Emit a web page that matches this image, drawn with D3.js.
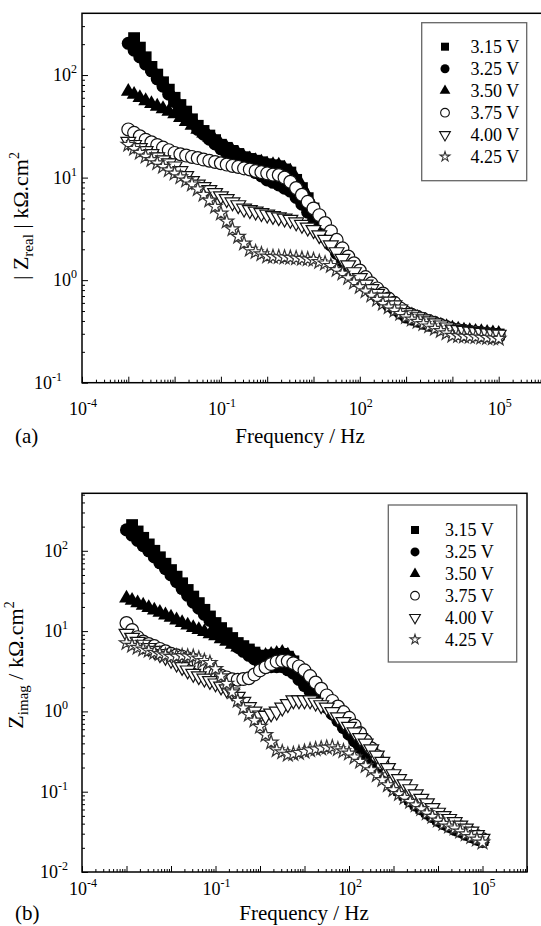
<!DOCTYPE html>
<html>
<head>
<meta charset="utf-8">
<script src="https://cdn.jsdelivr.net/npm/d3@7"></script>
<style>
    html, body { margin: 0; padding: 0; background: #fff; }
    svg { display: block; font-family: 'Liberation Serif', 'Times New Roman', serif; }
    .tick line { stroke: #000; stroke-width: 1; }
</style>
</head>
<body>
<svg id="chart" width="541" height="926"></svg>
<script>
// === DATA ===

// measurement frequencies, Hz
const FREQ = [
    1e-3, 1.334e-3, 1.778e-3, 2.371e-3, 3.162e-3, 4.217e-3, 5.623e-3, 7.499e-3,
    1e-2, 1.334e-2, 1.778e-2, 2.371e-2, 3.162e-2, 4.217e-2, 5.623e-2, 7.499e-2,
    0.1, 0.1334, 0.1778, 0.2371, 0.3162, 0.4217, 0.5623, 0.7499,
    1, 1.334, 1.778, 2.371, 3.162, 4.217, 5.623, 7.499,
    10, 13.34, 17.78, 23.71, 31.62, 42.17, 56.23, 74.99,
    100, 133.4, 177.8, 237.1, 316.2, 421.7, 562.3, 749.9,
    1000, 1334, 1778, 2371, 3162, 4217, 5623, 7499,
    1e4, 1.334e4, 1.778e4, 2.371e4, 3.162e4, 4.217e4, 5.623e4, 7.499e4,
    1e5
];

const SERIES_LABELS = ['3.15 V', '3.25 V', '3.50 V', '3.75 V', '4.00 V', '4.25 V'];

// (a) |Z_real|, kOhm.cm2
const ZREAL_315 = [
    null, 229, 185, 149, 120, 101, 85, 72,
    60, 51, 44, 37, 32, 28.5, 25.7, 23.2,
    20.9, 19.5, 18.2, 17, 15.8, 15.2, 14.6, 14.1,
    13.5, 13.2, 12.9, 12.0, 11.2, 9.5, 7.9, 6.3,
    5.0, 4.0, 3.2, 2.6, 2.1, 1.78, 1.48, 1.26,
    1.07, 0.95, 0.84, 0.74, 0.66, 0.60, 0.55, 0.51,
    0.47, 0.45, 0.42, 0.40, 0.38, 0.367, 0.355, 0.343,
    0.33, 0.325, 0.32, 0.314, 0.31, 0.305, 0.302, 0.299,
    0.295
];
const ZREAL_325 = [
    204, 175, 150, 128, 110, 92, 78, 65,
    55, 47, 40.3, 34.5, 29.5, 26.5, 23.7, 21.3,
    19.1, 17.4, 15.8, 14.5, 13.2, 12.2, 11.2, 10.4,
    9.5, 9.0, 8.5, 7.9, 7.4, 6.4, 5.5, 4.6,
    3.8, 3.2, 2.6, 2.2, 1.82, 1.53, 1.29, 1.11,
    0.95, 0.856, 0.77, 0.69, 0.62, 0.566, 0.52, 0.476,
    0.437, 0.417, 0.398, 0.38, 0.363, 0.351, 0.339, 0.327,
    0.316, 0.312, 0.307, 0.303, 0.299, 0.294, 0.29, 0.286,
    0.282
];
const ZREAL_350 = [
    69, 64.6, 60, 56, 52.5, 49.5, 46.8, 44.2,
    41.7, 38.3, 35.1, 32.2, 29.5, 27.1, 24.8, 22.8,
    20.9, 19.5, 18.2, 17, 15.8, 15.2, 14.6, 14.1,
    13.5, 13.3, 13.2, 12.3, 11.5, 9.8, 8.3, 6.6,
    5.2, 4.2, 3.3, 2.7, 2.24, 1.86, 1.55, 1.32,
    1.12, 0.99, 0.87, 0.77, 0.68, 0.62, 0.57, 0.525,
    0.484, 0.457, 0.431, 0.407, 0.389, 0.376, 0.363, 0.351,
    0.339, 0.331, 0.324, 0.32, 0.316, 0.313, 0.309, 0.305,
    0.302
];
const ZREAL_375 = [
    29.5, 27.3, 25.3, 23.4, 22.1, 20.8, 19.6, 18.5,
    17.4, 16.9, 16.4, 15.9, 15.5, 15.0, 14.6, 14.2,
    13.8, 13.4, 13.0, 12.7, 12.3, 12.0, 11.6, 11.3,
    11.0, 10.7, 10.6, 10.0, 9.1, 7.9, 6.8, 5.8,
    5.0, 4.3, 3.6, 3.0, 2.47, 2.04, 1.70, 1.46,
    1.24, 1.07, 0.93, 0.83, 0.74, 0.66, 0.60, 0.53,
    0.48, 0.457, 0.437, 0.417, 0.398, 0.38, 0.363, 0.347,
    0.331, 0.325, 0.32, 0.314, 0.309, 0.304, 0.299, 0.293,
    0.288
];
const ZREAL_400 = [
    22.4, 20.9, 19.5, 18.2, 17.0, 15.8, 14.8, 13.8,
    12.9, 11.6, 10.4, 9.3, 8.6, 8.1, 7.6, 7.1,
    6.6, 6.2, 5.75, 5.4, 5.0, 4.84, 4.68, 4.52,
    4.37, 4.24, 4.12, 4.0, 3.89, 3.67, 3.47, 3.27,
    3.09, 2.75, 2.48, 2.19, 1.88, 1.62, 1.40, 1.20,
    1.05, 0.91, 0.82, 0.74, 0.68, 0.62, 0.57, 0.52,
    0.48, 0.457, 0.437, 0.417, 0.398, 0.38, 0.363, 0.347,
    0.331, 0.327, 0.322, 0.317, 0.313, 0.308, 0.304, 0.299,
    0.295
];
const ZREAL_425 = [
    20.9, 19.1, 17.5, 16.1, 14.9, 13.8, 12.8, 11.8,
    11.0, 10.1, 9.4, 8.6, 7.7, 6.8, 6.0, 5.2,
    4.47, 3.74, 3.14, 2.66, 2.28, 1.98, 1.88, 1.79,
    1.70, 1.69, 1.68, 1.67, 1.66, 1.64, 1.62, 1.60,
    1.58, 1.51, 1.46, 1.38, 1.26, 1.16, 1.05, 0.95,
    0.86, 0.78, 0.71, 0.645, 0.59, 0.545, 0.506, 0.47,
    0.437, 0.414, 0.394, 0.374, 0.355, 0.337, 0.32, 0.304,
    0.288, 0.286, 0.283, 0.281, 0.279, 0.276, 0.274, 0.272,
    0.269
];

// (b) Z_imag, kOhm.cm2
const ZIMAG_315 = [
    null, 209, 174, 145, 120, 100, 83, 69,
    57.5, 47.6, 39.4, 32.5, 26.9, 22.3, 18.4, 15.2,
    12.6, 10.9, 9.4, 8.2, 7.1, 6.5, 5.9, 5.4,
    4.9, 4.95, 5.0, 5.1, 5.2, 4.8, 4.2, 3.3,
    2.6, 2.16, 1.78, 1.50, 1.26, 1.03, 0.84, 0.69,
    0.56, 0.46, 0.376, 0.307, 0.251, 0.209, 0.174, 0.145,
    0.120, 0.105, 0.092, 0.081, 0.071, 0.063, 0.057, 0.051,
    0.046, 0.042, 0.039, 0.036, 0.033, 0.031, 0.029, 0.027,
    0.025
];
const ZIMAG_325 = [
    182, 157, 135, 116, 100, 84, 71, 60,
    50, 41.2, 33.9, 27.9, 22.9, 19.3, 16.2, 13.6,
    11.5, 9.9, 8.5, 7.3, 6.3, 5.6, 5.0, 4.5,
    4.0, 3.8, 3.6, 3.6, 3.6, 3.3, 3.0, 2.5,
    2.1, 1.78, 1.51, 1.30, 1.12, 0.93, 0.77, 0.63,
    0.52, 0.43, 0.355, 0.29, 0.24, 0.20, 0.166, 0.138,
    0.115, 0.101, 0.088, 0.077, 0.068, 0.061, 0.054, 0.049,
    0.044, 0.040, 0.037, 0.034, 0.032, 0.0295, 0.0275, 0.0257,
    0.024
];
const ZIMAG_350 = [
    25.7, 24.0, 22.4, 20.9, 19.5, 18.2, 17.0, 15.8,
    14.8, 13.7, 12.7, 11.8, 11.0, 10.4, 9.8, 9.2,
    8.7, 8.0, 7.4, 6.8, 6.3, 5.9, 5.5, 5.1,
    4.8, 4.95, 5.1, 5.25, 5.4, 5.0, 4.4, 3.5,
    2.75, 2.26, 1.86, 1.57, 1.32, 1.08, 0.88, 0.72,
    0.59, 0.48, 0.394, 0.321, 0.263, 0.219, 0.182, 0.152,
    0.126, 0.110, 0.096, 0.085, 0.074, 0.066, 0.060, 0.053,
    0.048, 0.044, 0.041, 0.038, 0.035, 0.032, 0.030, 0.028,
    0.026
];
const ZIMAG_375 = [
    12.6, 10.3, 8.4, 7.4, 6.9, 6.5, 6.0, 5.6,
    5.2, 5.0, 4.8, 4.6, 4.4, 3.96, 3.59, 3.25,
    2.95, 2.80, 2.65, 2.51, 2.48, 2.53, 2.59, 2.88,
    3.24, 3.55, 3.89, 4.17, 4.27, 4.22, 3.98, 3.63,
    3.24, 2.75, 2.29, 1.91, 1.58, 1.35, 1.15, 0.98,
    0.83, 0.668, 0.537, 0.431, 0.347, 0.279, 0.224, 0.18,
    0.145, 0.127, 0.111, 0.098, 0.086, 0.076, 0.066, 0.058,
    0.051, 0.047, 0.043, 0.0396, 0.036, 0.033, 0.0305, 0.028,
    0.0257
];
const ZIMAG_400 = [
    9.3, 8.3, 7.4, 6.8, 6.2, 5.7, 5.2, 4.8,
    4.4, 3.96, 3.59, 3.25, 2.95, 2.75, 2.57, 2.40,
    2.24, 2.05, 1.89, 1.73, 1.53, 1.32, 1.135, 1.0,
    0.895, 0.885, 0.946, 1.0, 1.12, 1.24, 1.38, 1.38,
    1.38, 1.38, 1.29, 1.2, 1.12, 0.986, 0.85, 0.74,
    0.645, 0.55, 0.468, 0.40, 0.339, 0.283, 0.237, 0.198,
    0.166, 0.144, 0.124, 0.108, 0.093, 0.082, 0.072, 0.063,
    0.055, 0.050, 0.046, 0.042, 0.038, 0.035, 0.032, 0.029,
    0.026
];
const ZIMAG_425 = [
    7.1, 6.6, 6.2, 5.9, 5.7, 5.4, 5.2, 5.0,
    4.8, 4.84, 4.9, 4.86, 4.8, 4.57, 4.27, 4.03,
    3.39, 2.75, 2.21, 1.74, 1.36, 1.10, 0.91, 0.77,
    0.645, 0.51, 0.41, 0.33, 0.31, 0.29, 0.295, 0.305,
    0.316, 0.33, 0.339, 0.347, 0.355, 0.359, 0.339, 0.32,
    0.30, 0.268, 0.237, 0.21, 0.186, 0.161, 0.14, 0.121,
    0.105, 0.094, 0.084, 0.075, 0.068, 0.061, 0.054, 0.049,
    0.044, 0.040, 0.037, 0.035, 0.032, 0.0296, 0.0274, 0.0254,
    0.0234
];

// tick label exponents
const X_LABEL_EXP = [-4, -1, 2, 5];
const YA_LABEL_EXP = [-1, 0, 1, 2];
const YB_LABEL_EXP = [-2, -1, 0, 1, 2];

// === STYLE ===

const MARKERS = [
    { type: d3.symbolSquare,   size: 140, legendSize: 64, fill: '#000', stroke: 'none' },
    { type: d3.symbolCircle,   size: 135, legendSize: 64, fill: '#000', stroke: 'none' },
    { type: d3.symbolTriangle, size: 95,  legendSize: 50, fill: '#000', stroke: 'none' },
    { type: d3.symbolCircle,   size: 130, legendSize: 60, fill: '#fff', stroke: '#111' },
    { type: d3.symbolTriangle, size: 95,  legendSize: 50, fill: '#fff', stroke: '#111', flip: true },
    { type: d3.symbolStar,     size: 62,  legendSize: 30, fill: '#fff', stroke: '#333' }
];

const FONT = "'Liberation Serif', 'Times New Roman', serif";

const PANEL_A = {
    left: 82, right: 545, top: 13.3, bottom: 382.7,
    yDomain: [0.1, 400],
    series: [ZREAL_315, ZREAL_325, ZREAL_350, ZREAL_375, ZREAL_400, ZREAL_425],
    yLabelExp: YA_LABEL_EXP,
    yLabelX: 77, yLabelXSpecial: { '-1': 62 },
    xLabelY: 415,
    xTitleX: 300, xTitleY: 443,
    tag: '(a)', tagY: 443,
    yTitle: { cx: 28, cy: 216, main: '| Z', sub: 'real', rest: ' | kΩ.cm' },
    legend: { x: 421.7, y: 22.7, w: 105, h: 158, markX: 445, textX: 470.5, rowY: 46.7, rowH: 22 }
};

const PANEL_B = {
    left: 82, right: 527, top: 493.3, bottom: 872,
    yDomain: [0.01, 520],
    series: [ZIMAG_315, ZIMAG_325, ZIMAG_350, ZIMAG_375, ZIMAG_400, ZIMAG_425],
    yLabelExp: YB_LABEL_EXP,
    yLabelX: 68, yLabelXSpecial: {},
    xLabelY: 895,
    xTitleX: 304, xTitleY: 920,
    tag: '(b)', tagY: 920,
    yTitle: { cx: 23, cy: 665, main: 'Z', sub: 'imag', rest: ' / kΩ.cm' },
    legend: { x: 388.3, y: 505, w: 128.4, h: 157, markX: 415, textX: 445, rowY: 530, rowH: 21.9 }
};

// === DRAW ===

const svg = d3.select('#chart');

function symbolPath(m, size) {
    return d3.symbol().type(m.type).size(size)();
}

function powerLabel(g, x, y, exp, anchor) {
    const t = g.append('text')
        .attr('x', x)
        .attr('y', y)
        .attr('text-anchor', anchor)
        .attr('font-size', 18)
        .attr('font-family', FONT);
    t.append('tspan').text('10');
    t.append('tspan')
        .attr('dy', -8)
        .attr('font-size', 12)
        .text(exp < 0 ? '-' + (-exp) : String(exp));
}

function drawPanel(p) {
    const x = d3.scaleLog().domain([1e-4, 1e6]).range([p.left, p.right]);
    const y = d3.scaleLog().domain(p.yDomain).range([p.bottom, p.top]);
    const g = svg.append('g');

    // markers, drawn in legend order
    p.series.forEach((vals, i) => {
        const m = MARKERS[i];
        const pts = FREQ.map((f, j) => ({ f, v: vals[j] })).filter(d => d.v != null);
        g.append('g')
            .selectAll('path')
            .data(pts)
            .join('path')
            .attr('transform', d => `translate(${x(d.f)},${y(d.v)})${m.flip ? ' rotate(180)' : ''}`)
            .attr('d', symbolPath(m, m.size))
            .attr('fill', m.fill)
            .attr('stroke', m.stroke)
            .attr('stroke-width', 1.2);
    });

    // decade and minor tick values
    const xDecades = d3.range(-4, 7).map(e => Math.pow(10, e));
    const xMinor = [];
    d3.range(-4, 6).forEach(e => d3.range(2, 10).forEach(k => xMinor.push(k * Math.pow(10, e))));
    const yLo = Math.round(Math.log10(p.yDomain[0]));
    const yHi = Math.ceil(Math.log10(p.yDomain[1]));
    const yDecades = d3.range(yLo, yHi).map(e => Math.pow(10, e));
    const yMinor = [];
    d3.range(yLo, yHi).forEach(e => d3.range(2, 10).forEach(k => {
        const v = k * Math.pow(10, e);
        if (v < p.yDomain[1]) yMinor.push(v);
    }));

    const axisX = g.append('g').attr('transform', `translate(0,${p.bottom})`);
    axisX.append('g').call(d3.axisBottom(x).tickValues(xDecades).tickSize(-6).tickFormat(''));
    axisX.append('g').call(d3.axisBottom(x).tickValues(xMinor).tickSize(-3).tickFormat(''));
    axisX.selectAll('.domain').remove();

    const axisY = g.append('g').attr('transform', `translate(${p.left},0)`);
    axisY.append('g').call(d3.axisLeft(y).tickValues(yDecades).tickSize(-6).tickFormat(''));
    axisY.append('g').call(d3.axisLeft(y).tickValues(yMinor).tickSize(-3).tickFormat(''));
    axisY.selectAll('.domain').remove();

    // frame
    g.append('rect')
        .attr('x', p.left)
        .attr('y', p.top)
        .attr('width', p.right - p.left)
        .attr('height', p.bottom - p.top)
        .attr('fill', 'none')
        .attr('stroke', '#000')
        .attr('stroke-width', 1.5);

    // tick labels
    X_LABEL_EXP.forEach(e => powerLabel(g, x(Math.pow(10, e)) + 1, p.xLabelY, e, 'middle'));
    p.yLabelExp.forEach(e => {
        const lx = p.yLabelXSpecial[e] !== undefined ? p.yLabelXSpecial[e] : p.yLabelX;
        powerLabel(g, lx, y(Math.pow(10, e)) + 6, e, 'end');
    });

    // axis titles
    g.append('text')
        .attr('x', p.xTitleX)
        .attr('y', p.xTitleY)
        .attr('text-anchor', 'middle')
        .attr('font-size', 21)
        .attr('font-family', FONT)
        .text('Frequency / Hz');

    g.append('text')
        .attr('x', 15)
        .attr('y', p.tagY)
        .attr('font-size', 21)
        .attr('font-family', FONT)
        .text(p.tag);

    const yt = g.append('text')
        .attr('transform', `translate(${p.yTitle.cx},${p.yTitle.cy}) rotate(-90)`)
        .attr('text-anchor', 'middle')
        .attr('font-size', 22)
        .attr('font-family', FONT);
    yt.append('tspan').text(p.yTitle.main);
    yt.append('tspan').attr('dy', 5).attr('font-size', 15).text(p.yTitle.sub);
    yt.append('tspan').attr('dy', -5).text(p.yTitle.rest);
    yt.append('tspan').attr('dy', -9).attr('font-size', 14).text('2');

    // legend
    const L = p.legend;
    const lg = g.append('g');
    lg.append('rect')
        .attr('x', L.x).attr('y', L.y)
        .attr('width', L.w).attr('height', L.h)
        .attr('fill', '#fff')
        .attr('stroke', '#666')
        .attr('stroke-width', 1.3);

    SERIES_LABELS.forEach((label, i) => {
        const m = MARKERS[i];
        const cy = L.rowY + i * L.rowH;
        lg.append('path')
            .attr('transform', `translate(${L.markX},${cy})${m.flip ? ' rotate(180)' : ''}`)
            .attr('d', symbolPath(m, m.legendSize))
            .attr('fill', m.fill)
            .attr('stroke', m.stroke)
            .attr('stroke-width', 1.1);
        lg.append('text')
            .attr('x', L.textX)
            .attr('y', cy + 6)
            .attr('font-size', 18)
            .attr('font-family', FONT)
            .text(label);
    });
}

drawPanel(PANEL_A);
drawPanel(PANEL_B);
</script>
</body>
</html>
